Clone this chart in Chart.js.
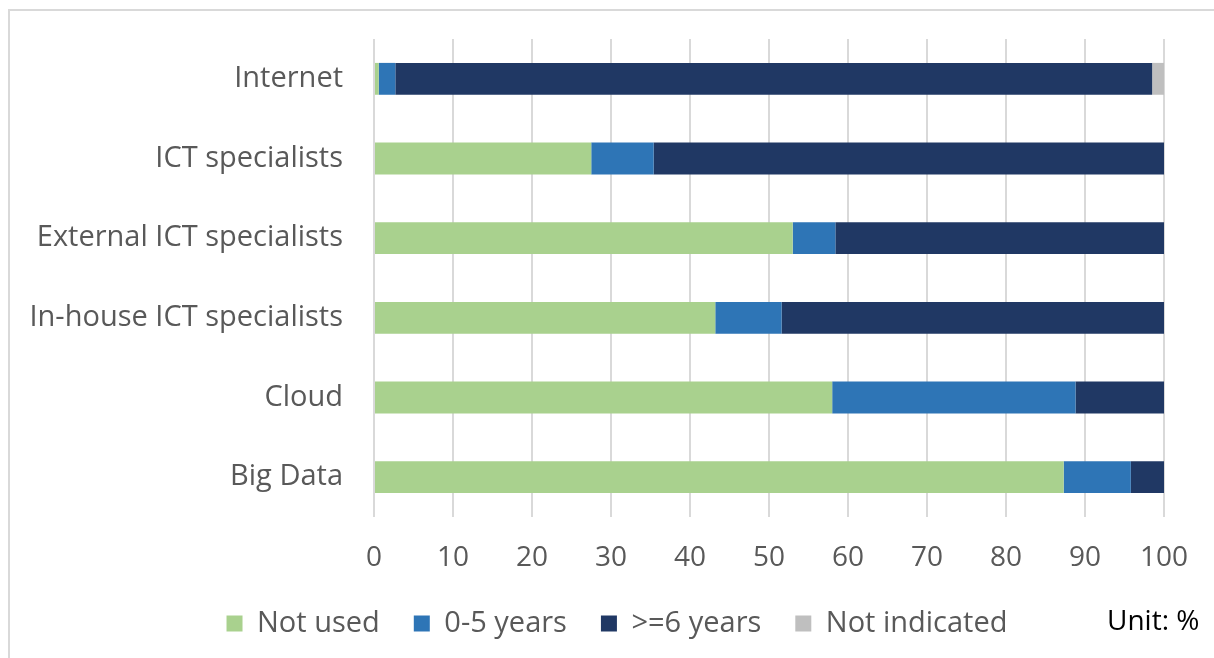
<!DOCTYPE html>
<html>
<head>
<meta charset="utf-8">
<script src="https://cdn.jsdelivr.net/npm/chart.js@4/dist/chart.umd.min.js"></script>
<style>
  html, body { margin: 0; padding: 0; background: #ffffff; overflow: hidden; }
  #wrap { position: relative; width: 1214px; height: 658px; }
  #frame { position: absolute; left: 8px; top: 9px; width: 1230px; height: 670px; border-left: 2px solid #d9d9d9; border-top: 2px solid #d9d9d9; box-sizing: border-box; }
  canvas { position: absolute; left: 0; top: 0; }
  #unit { position: absolute; left: 1107px; top: 600px; font-family: "Open Sans", sans-serif; font-size: 28px; color: #000000; white-space: nowrap; }
</style>
</head>
<body>
<div id="wrap">
  <div id="frame"></div>
  <canvas id="c" width="1214" height="658"></canvas>
  <div id="unit">Unit: %</div>
</div>
<script>
const categories = ["Internet", "ICT specialists", "External ICT specialists", "In-house ICT specialists", "Cloud", "Big Data"];
const notUsed      = [0.6, 27.5, 53.0, 43.2, 58.0, 87.3];
const zeroToFive   = [2.1, 7.9, 5.4, 8.4, 30.8, 8.5];
const sixPlus      = [95.8, 64.6, 41.6, 48.4, 11.2, 4.2];
const notIndicated = [1.5, 0, 0, 0, 0, 0];
const xTicks = [0, 10, 20, 30, 40, 50, 60, 70, 80, 90, 100];

const font = "'Open Sans', sans-serif";
new Chart(document.getElementById('c'), {
  type: 'bar',
  data: {
    labels: categories,
    datasets: [
      { label: 'Not used', data: notUsed, backgroundColor: '#A9D18E' },
      { label: '0-5 years', data: zeroToFive, backgroundColor: '#2E75B6' },
      { label: '>=6 years', data: sixPlus, backgroundColor: '#203864' },
      { label: 'Not indicated', data: notIndicated, backgroundColor: '#BFBFBF' }
    ]
  },
  options: {
    indexAxis: 'y',
    responsive: false,
    animation: false,
    maintainAspectRatio: false,
    layout: { padding: { top: 39, right: 0, left: 20, bottom: 10 } },
    datasets: { bar: { categoryPercentage: 0.4, barPercentage: 1.0, borderWidth: 0 } },
    scales: {
      x: {
        stacked: true,
        min: 0, max: 100,
        afterBuildTicks: (s) => { s.ticks = xTicks.map(v => ({ value: v })); },
        afterFit: (s) => { s.height = 58; },
        grid: { color: '#d9d9d9', lineWidth: 2, drawTicks: false },
        border: { display: false },
        ticks: { color: '#595959', font: { family: font, size: 28 }, padding: 24 }
      },
      y: {
        stacked: true,
        afterFit: (s) => { s.width = 354; },
        grid: { display: false, tickLength: 31 },
        border: { display: false },
        ticks: { color: '#595959', font: { family: font, size: 29 }, padding: 0 }
      },
      yRight: {
        type: 'category',
        position: 'right',
        display: true,
        afterFit: (s) => { s.width = 50; },
        grid: { display: false, tickLength: 0 },
        border: { display: false },
        ticks: { display: false, padding: 0 }
      }
    },
    plugins: {
      legend: {
        position: 'bottom',
        labels: { color: '#595959', font: { family: font, size: 29 }, boxWidth: 16, boxHeight: 16, padding: 34 }
      },
      tooltip: { enabled: false }
    }
  }
});
</script>
</body>
</html>
